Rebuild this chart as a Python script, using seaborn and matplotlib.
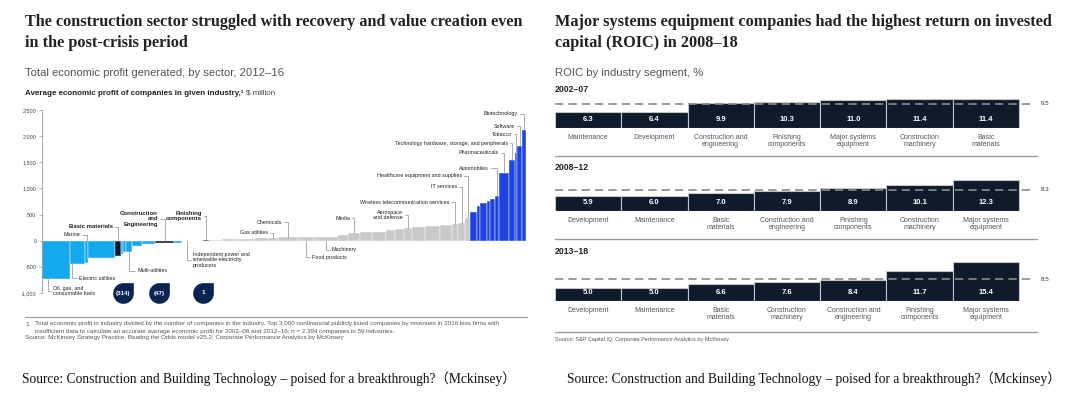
import numpy as np
import pandas as pd
import seaborn as sns
import matplotlib.pyplot as plt
from matplotlib.path import Path

sns.set_theme(style="white")
plt.rcParams['font.family'] = ['Liberation Sans', 'DejaVu Sans']

# ---------------- left chart: average economic profit by industry, 2012-16 -------------
# bar width = number of companies in the industry, height = $ million
ind_width = [140, 75, 15, 135, 30, 10, 15, 30, 50, 65, 95, 40, 50, 55, 30,
             65, 80, 85, 65, 50, 100, 80, 120, 50, 60, 60, 70, 45, 45, 40, 65,
             75, 60, 30, 35, 25,
             35, 15, 35, 15, 25, 20, 50, 30, 10, 25, 20]
ind_value = [-730, -440, -430, -330, -300, -250, -225, -210, -100, -65, -45, -38, -15, -5, 5,
             15, 30, 40, 50, 55, 70, 75, 80, 100, 150, 165, 170, 205, 215, 240, 255,
             280, 300, 320, 330, 430,
             550, 670, 720, 760, 790, 860, 1290, 1545, 1675, 1815, 2120]
ind_group = (['loss'] * 4 + ['construction'] + ['loss'] * 5 + ['construction']
             + ['loss'] * 3 + ['construction'] + ['middle'] * 21 + ['top'] * 11)

labels = ['Oil, gas, and\nconsumable fuels', 'Electric utilities', 'Marine', 'Basic materials',
          'Multi-utilities', 'Construction\nand\nEngineering',
          'Independent power and\nrenewable-electricity\nproducers',
          'Finishing\ncomponents', 'Gas utilities', 'Chemicals', 'Food products', 'Machinery',
          'Media', 'Aerospace\nand defense', 'Wireless telecommunication services',
          'IT services', 'Healthcare equipment and supplies', 'Automobiles', 'Pharmaceuticals',
          'Technology hardware, storage, and peripherals', 'Tobacco', 'Software', 'Biotechnology']
label_bar = [0, 1, 2, 4, 7, 10, 12, 14, 19, 20, 21, 22, 24, 29, 33, 34, 35,
             41, 42, 43, 44, 45, 46]
label_bold = [False, False, False, True, False, True, False, True] + [False] * 15

# total economic profit of the construction segments, $ billion
drop_labels = ['(314)', '(47)', '1']

# ---------------- right chart: ROIC by industry segment, % ----------------
seg_0207 = ['Maintenance', 'Development', 'Construction and engineering', 'Finishing components',
            'Major systems equipment', 'Construction machinery', 'Basic materials']
roic_0207 = [6.3, 6.4, 9.9, 10.3, 11.0, 11.4, 11.4]
avg_0207 = 9.5

seg_0812 = ['Development', 'Maintenance', 'Basic materials', 'Construction and engineering',
            'Finishing components', 'Construction machinery', 'Major systems equipment']
roic_0812 = [5.9, 6.0, 7.0, 7.9, 8.9, 10.1, 12.3]
avg_0812 = 8.3

seg_1318 = ['Development', 'Maintenance', 'Basic materials', 'Construction machinery',
            'Construction and engineering', 'Finishing components', 'Major systems equipment']
roic_1318 = [5.0, 5.0, 6.6, 7.6, 8.4, 11.7, 15.4]
avg_1318 = 8.5

wrap = {'Construction and engineering': 'Construction and\nengineering',
        'Finishing components': 'Finishing\ncomponents',
        'Major systems equipment': 'Major systems\nequipment',
        'Construction machinery': 'Construction\nmachinery',
        'Basic materials': 'Basic\nmaterials'}

# ---------------- styling / layout ----------------
NAVY = '#0e1b2b'
palette = {'loss': '#14a8ec', 'construction': '#0b1a2e', 'middle': '#c9c9c9', 'top': '#1f43e0'}
DROP = '#0c2453'
SERIF = ['Liberation Serif', 'Noto Sans CJK SC']
W, H = 1080, 398

fig = plt.figure(figsize=(10.8, 3.98), dpi=100)


def rect(x0, y0, x1, y1):
    # reference pixel box -> figure fraction
    return [x0 / W, 1 - y1 / H, (x1 - x0) / W, (y1 - y0) / H]


ov = fig.add_axes([0, 0, 1, 1])
ov.set_xlim(0, W)
ov.set_ylim(H, 0)
ov.axis('off')

title_kw = dict(family=SERIF, weight='bold', fontsize=11.7, color='#222', va='top', linespacing=1.45)
ov.text(25, 14, 'The construction sector struggled with recovery and value creation even\n'
        'in the post-crisis period', **title_kw)
ov.text(555, 14, 'Major systems equipment companies had the highest return on invested\n'
        'capital (ROIC) in 2008–18', **title_kw)
ov.text(25, 73, 'Total economic profit generated, by sector, 2012–16', fontsize=8.1, color='#555', va='center')
ov.text(555, 73, 'ROIC by industry segment, %', fontsize=8.1, color='#555', va='center')
t = ov.text(25, 93, 'Average economic profit of companies in given industry,¹', fontsize=5.8,
            weight='bold', color='#222', va='center')
fig.canvas.draw()
ov.text(t.get_window_extent().x1 + 2, 93, '$ million', fontsize=5.8, color='#444', va='center')

# ---- left bars (variable width) ----
axL = fig.add_axes(rect(42, 110, 527, 293))
axL.set_facecolor('none')
lefts = np.concatenate([[0], np.cumsum(ind_width)[:-1]])
axL.bar(lefts, ind_value, width=ind_width, align='edge',
        color=[palette[g] for g in ind_group], edgecolor='white', linewidth=0.3)
axL.set_xlim(0, 2425)
axL.set_ylim(-1000, 2500)
yt = [-1000, -500, 0, 500, 1000, 1500, 2000, 2500]
axL.set_yticks(yt)
axL.set_yticklabels([f'{v:,}' for v in yt])
axL.set_xticks([])
for s in ['top', 'right', 'bottom']:
    axL.spines[s].set_visible(False)
axL.spines['left'].set_color('#9a9a9a')
axL.spines['left'].set_linewidth(0.6)
axL.tick_params(axis='y', left=True, length=2, width=0.5, color='#9a9a9a',
                labelsize=3.9, labelcolor='#444', pad=2)

# label anchor points, reference pixels
label_xy = [(53, 291), (79, 278), (80, 235), (113, 227), (137, 271), (158, 219), (193, 260),
            (202, 216), (268, 233), (282, 222), (312, 257), (332, 250), (350, 218),
            (403, 215), (449, 202), (457, 187), (462, 176), (489, 168), (499, 153),
            (508, 143), (512, 134), (515, 126), (518, 114)]
label_below = [True, True, False, False, True, False, True, False, False, False, True, True,
               False, False, False, False, False, False, False, False, False, False, False]
label_frac = [0.2, 0.15] + [0.5] * 21

for txt, i, (tx, ty), below, frac, bold in zip(labels, label_bar, label_xy, label_below,
                                                label_frac, label_bold):
    bx = lefts[i] + ind_width[i] * frac
    by = min(ind_value[i], 0) if below else max(ind_value[i], 0)
    axL.annotate(txt, xy=(bx, by), xycoords='data', xytext=(tx, H - ty),
                 textcoords='figure pixels', ha='left' if below else 'right', va='center',
                 multialignment='left' if below else 'right',
                 fontsize=4.3 if bold else 3.9, weight='bold' if bold else 'normal',
                 color='#222', linespacing=1.1,
                 arrowprops=dict(arrowstyle='-', color='#8c8c8c', lw=0.5, patchA=None,
                                 relpos=(0, 0.5) if below else (1, 0.5), shrinkA=1.5, shrinkB=0,
                                 connectionstyle='angle,angleA=0,angleB=90,rad=0'))

# callout drops
arc = Path.arc(90, 360)
drop = Path(list(arc.vertices) + [(1, 1), (0, 1)],
            list(arc.codes) + [Path.LINETO, Path.CLOSEPOLY])
drop_xy = [(123, 293), (159, 293), (203, 293)]
for (dx, dy), lab in zip(drop_xy, drop_labels):
    ov.scatter([dx], [dy], marker=drop, s=230, color=DROP, linewidths=0)
    ov.text(dx, dy, lab, color='white', fontsize=4.5, weight='bold', ha='center', va='center')

# footnotes left
ov.plot([25, 527], [317, 317], color='#9a9a9a', lw=0.8)
fn_kw = dict(fontsize=4.5, color='#555', va='center')
ov.text(25, 324, '1.', **fn_kw)
ov.text(35, 324, 'Total economic profit in industry divided by the number of companies in the industry. '
        'Top 3,000 nonfinancial publicly listed companies by revenues in 2016 less firms with', **fn_kw)
ov.text(35, 331, 'insufficient data to calculate an accurate average economic profit for 2002–06 and '
        '2012–16; n = 2,394 companies in 59 industries.', **fn_kw)
ov.text(25, 338, 'Source: McKinsey Strategy Practice, Beating the Odds model v25.2; '
        'Corporate Performance Analytics by McKinsey', **fn_kw)

# ---- right: three ROIC panels ----
panels = [('2002–07', seg_0207, roic_0207, avg_0207, 89, 128, 156),
          ('2008–12', seg_0812, roic_0812, avg_0812, 168, 211, 239),
          ('2013–18', seg_1318, roic_1318, avg_1318, 251, 301, 332)]
for period, seg, vals, avg, year_y, base_y, sep_y in panels:
    ov.text(555, year_y, period, fontsize=6.3, weight='bold', color='#222', va='center')
    ax = fig.add_axes(rect(555, base_y - 42, 1037, base_y))
    ax.set_facecolor('none')
    df = pd.DataFrame({'segment': seg, 'roic': vals})
    sns.barplot(data=df, x='segment', y='roic', color=NAVY, saturation=1, width=1,
                edgecolor='#c4c4c4', linewidth=0.8, errorbar=None, ax=ax)
    ax.set(xlabel='', ylabel='')
    ax.set_xlim(-0.5, 6.77)
    ax.set_ylim(0, 16.5)
    ax.set_yticks([])
    ax.set_xticks(range(len(seg)))
    ax.set_xticklabels([wrap.get(s, s) for s in seg], fontsize=5, color='#555', linespacing=1.15)
    ax.tick_params(axis='x', length=0, pad=4)
    for s in ax.spines.values():
        s.set_visible(False)
    for k, v in enumerate(vals):
        ax.text(k, 3.2, f'{v:.1f}', color='white', fontsize=5.5, weight='bold',
                ha='center', va='center')
    ax.plot([-0.5, 6.66], [avg, avg], color='#8a8a8a', lw=1.2, ls=(0, (5, 3)), clip_on=False)
    ax.text(6.82, avg, f'{avg}', fontsize=4.5, color='#333', va='center', ha='left')
    ov.plot([555, 1037], [sep_y, sep_y], color='#9a9a9a', lw=1)

ov.text(555, 339, 'Source: S&P Capital IQ; Corporate Performance Analytics by McKinsey',
        fontsize=4.0, color='#555', va='center')

src = 'Source: Construction and Building Technology – poised for a breakthrough?（Mckinsey）'
ov.text(22, 379, src, family=SERIF, fontsize=9.75, color='#111', va='center')
ov.text(567, 379, src, family=SERIF, fontsize=9.75, color='#111', va='center')

fig.savefig('out.png', dpi=100)
